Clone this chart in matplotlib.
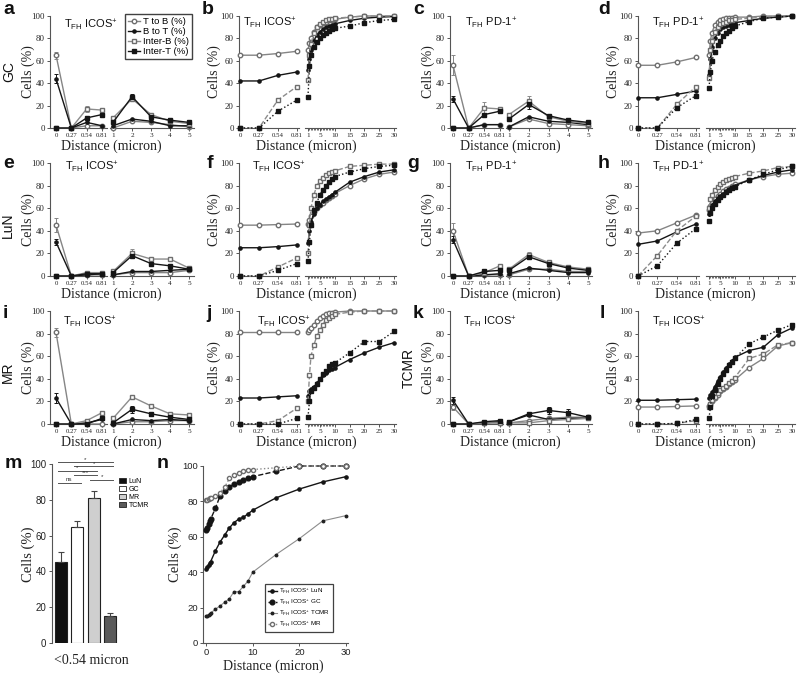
import numpy as np
import matplotlib.pyplot as plt
from matplotlib.lines import Line2D
from matplotlib.patches import Patch

plt.rcParams['font.family'] = ['Liberation Serif', 'DejaVu Serif']
plt.rcParams['axes.linewidth'] = 0.8

SERIES = ['T to B (%)', 'B to T (%)', 'Inter-B (%)', 'Inter-T (%)']
X_LEFT = [0, 0.27, 0.54, 0.81]
X_LEFT_LABELS = ['0', '0.27', '0.54', '0.81']
X_NEAR = [1, 2, 3, 4, 5]
X_FAR = [1, 1.5, 2, 3, 4, 5, 6, 7, 8, 9, 10, 15, 20, 25, 30]

# distribution panels (a, c, e, g, i, k): 0, 0.27, 0.54, 0.81, 1..5
a_tb = [65, 0, 2, 2, 0, 6, 5, 3, 1]
a_bt = [44, 0, 5, 2, 2, 8, 6, 2, 2]
a_ib = [0, 0, 17, 16, 9, 26, 12, 6, 4]
a_it = [0, 0, 9, 12, 5, 28, 10, 7, 5]
a_err = {0: {0: 3}, 1: {0: 4}, 2: {2: 3, 5: 2}, 3: {5: 2}}

c_tb = [56, 0, 3, 3, 1, 8, 4, 3, 2]
c_bt = [26, 0, 3, 3, 1, 10, 6, 5, 3]
c_ib = [0, 0, 18, 17, 12, 24, 10, 6, 4]
c_it = [0, 0, 12, 15, 8, 21, 11, 7, 5]
c_err = {0: {0: 9}, 1: {0: 3}, 2: {2: 5, 5: 5}, 3: {5: 4}}

e_tb = [45, 0, 1, 1, 1, 3, 3, 3, 5]
e_bt = [30, 0, 1, 2, 1, 4, 4, 5, 6]
e_ib = [0, 0, 3, 3, 4, 20, 15, 15, 7]
e_it = [0, 0, 2, 2, 3, 18, 11, 9, 6]
e_err = {0: {0: 6}, 1: {0: 3}, 2: {5: 4}, 3: {}}

g_tb = [40, 0, 1, 1, 1, 6, 6, 4, 4]
g_bt = [32, 0, 1, 2, 2, 7, 5, 3, 3]
g_ib = [0, 0, 3, 9, 6, 19, 12, 8, 6]
g_it = [0, 0, 4, 5, 5, 17, 11, 7, 5]
g_err = {0: {0: 7}, 1: {0: 3}, 2: {5: 2}, 3: {}}

i_tb = [81, 0, 0, 0, 0, 2, 2, 3, 3]
i_bt = [23, 0, 1, 4, 0, 4, 3, 4, 3]
i_ib = [0, 0, 3, 10, 5, 24, 16, 9, 8]
i_it = [0, 0, 0, 5, 1, 13, 9, 6, 4]
i_err = {0: {0: 4}, 1: {0: 4}, 2: {}, 3: {5: 3, 6: 2}}

k_tb = [15, 0, 1, 1, 1, 3, 5, 6, 6]
k_bt = [21, 0, 1, 2, 2, 8, 4, 5, 5]
k_ib = [0, 0, 1, 1, 1, 1, 3, 4, 5]
k_it = [0, 0, 2, 3, 2, 9, 12, 10, 6]
k_err = {0: {0: 3}, 1: {0: 3}, 2: {}, 3: {6: 3, 7: 3}}

# cumulative panels (b, d, f, h, j, l): 0..0.81 then X_FAR
b_tb = [65, 65, 66.5, 68.5, 70, 76, 80, 86, 90, 92, 94, 95, 96, 96.5, 97, 99, 100, 100, 100]
b_bt = [42, 42, 47, 50, 52, 62, 70, 78, 83, 86, 88, 90, 91, 92, 93, 96, 98, 99, 99.5]
b_ib = [0, 0, 25, 37, 43, 65, 75, 85, 90, 93, 95, 96, 97, 97, 98, 99, 100, 100, 100]
b_it = [0, 0, 15, 25, 28, 55, 65, 72, 77, 80, 83, 85, 87, 88, 89, 91, 94, 96, 97]

d_tb = [56, 56, 59, 63, 65, 78, 85, 92, 95, 96, 97, 98, 98, 98.5, 99, 99, 100, 100, 100]
d_bt = [27, 27, 30, 33, 47, 62, 72, 80, 85, 88, 90, 91, 92, 93, 94, 96, 98, 99, 100]
d_ib = [0, 0, 21, 37, 45, 70, 78, 86, 90, 93, 94, 95, 96, 96, 97, 98, 99, 100, 100]
d_it = [0, 0, 18, 29, 36, 50, 60, 68, 74, 78, 82, 85, 87, 89, 91, 95, 98, 99, 100]

f_tb = [45, 45, 45.5, 46, 46, 50, 53, 57, 60, 63, 65, 67, 69, 71, 73, 80, 86, 90, 92]
f_bt = [25, 25, 26, 27.5, 29, 40, 48, 55, 60, 63, 66, 68, 70, 72, 74, 83, 88, 92, 94]
f_ib = [0, 0, 8, 16, 20, 45, 60, 72, 80, 84, 87, 89, 91, 92, 93, 97, 98, 99, 99]
f_it = [0, 0, 5, 11, 13, 30, 45, 58, 65, 72, 76, 80, 83, 86, 88, 92, 95, 97, 98]

h_tb = [38, 40, 47, 54, 58, 62, 65, 68, 71, 73, 75, 77, 78, 80, 81, 85, 88, 90, 91]
h_bt = [28, 31, 39, 46, 55, 60, 63, 66, 69, 71, 73, 75, 77, 79, 80, 85, 89, 92, 94]
h_ib = [0, 18, 40, 53, 60, 68, 72, 76, 79, 81, 83, 85, 86, 87, 88, 91, 93, 96, 97]
h_it = [0, 9, 29, 42, 49, 56, 60, 64, 67, 70, 72, 74, 76, 78, 79, 85, 90, 94, 97]

j_tb = [81, 81, 81, 81, 81, 83, 85, 88, 91, 94, 96, 97, 98, 98, 99, 100, 100, 100, 100]
j_bt = [23, 23, 24, 25, 25, 29, 31, 33, 36, 40, 43, 45, 48, 49, 50, 57, 63, 68, 72]
j_ib = [0, 0, 3, 14, 20, 43, 60, 70, 78, 83, 88, 92, 94, 96, 97, 99, 100, 100, 100]
j_it = [0, 0, 0, 5, 6, 20, 29, 32, 35, 40, 44, 47, 51, 53, 54, 63, 73, 73, 82]

l_tb = [15, 15, 15.5, 16, 16, 18, 20, 23, 26, 29, 31, 33, 35, 37, 39, 50, 58, 69, 72]
l_bt = [21, 21, 21.5, 22, 23, 26, 28, 33, 38, 42, 46, 50, 53, 56, 59, 65, 68, 79, 85]
l_ib = [0, 0, 0.5, 3, 15, 18, 21, 24, 27, 30, 32, 34, 36, 38, 41, 58, 62, 70, 72]
l_it = [0, 0, 0.5, 4, 5, 15, 25, 30, 35, 40, 44, 48, 52, 55, 58, 71, 77, 83, 88]

# m: bars
m_groups = ['LuN', 'GC', 'MR', 'TCMR']
m_vals = [45, 65, 81, 15]
m_err = [6, 3, 4, 2]
m_colors = ['#111111', '#ffffff', '#cfcfcf', '#5a5a5a']
m_sig = [(0, 1, 89.5, 'ns'), (2, 3, 91.2, '*'), (1, 2, 93.7, '***'),
         (0, 2, 96.3, '*'), (1, 3, 98.7, '*'), (0, 3, 101.0, '*')]

# n: cumulative by region
n_x = [0, 0.27, 0.54, 0.81, 1, 2, 3, 4, 5, 6, 7, 8, 9, 10, 15, 20, 25, 30]
n_lun = [42, 43, 44, 45, 46, 52, 57, 61, 65, 68, 70, 71, 73, 75, 82, 87, 91, 94]
n_gc = [64, 65, 67, 69, 70, 76, 83, 86, 88, 90, 91, 92, 93, 94, 97, 100, 100, 100]
n_tcmr = [15, 15.5, 16, 16.5, 17, 19, 21, 23, 25, 29, 29, 32, 35, 40, 50, 59, 69, 72]
n_mr = [81, 81, 81.5, 82, 82, 83, 85, 88, 93, 95, 96, 97, 98, 98, 99, 100, 100, 100]

W, H = 800, 675
fig = plt.figure(figsize=(W / 100, H / 100), dpi=100)

AX_C = '#555555'
TXT = '#222222'
SANS = 'Liberation Sans'

STYLE = {
    'T to B (%)': dict(color='#858585', marker='o', mfc='white', mec='#6e6e6e', ms=3.2, lw=1.0, ls='-'),
    'B to T (%)': dict(color='#151515', marker='o', mfc='#151515', mec='#151515', ms=2.3, lw=1.0, ls='-'),
    'Inter-B (%)': dict(color='#8c8c8c', marker='s', mfc='white', mec='#6e6e6e', ms=2.9, lw=1.0, ls='--'),
    'Inter-T (%)': dict(color='#151515', marker='s', mfc='#151515', mec='#151515', ms=2.6, lw=1.0, ls=':'),
}

# column geometry in pixels: y spine, end of left part, start/end of right part
COLS = {
    1: dict(spine=50, lend=107, rstart=110, rend=194, lx=(-0.106, 0.898), rx=(0.84, 5.26), yl=22),
    2: dict(spine=239, lend=299, rstart=305, rend=396, lx=(-0.015, 0.84), rx=(0.0, 30.6), yl=25),
    3: dict(spine=450, lend=503, rstart=506, rend=592, lx=(-0.052, 0.862), rx=(0.85, 5.2), yl=22),
    4: dict(spine=638, lend=699, rstart=706, rend=795, lx=(0.0, 0.852), rx=(-0.05, 31.0), yl=25),
}
ROWS = {1: (16, 128), 2: (163, 276), 3: (311, 424)}


def px_axes(x0, x1, y0, y1):
    return fig.add_axes([x0 / W, 1 - y1 / H, (x1 - x0) / W, (y1 - y0) / H])


def ftext(x, y, s, **kw):
    return fig.text(x / W, 1 - y / H, s, **kw)


def style_ax(ax, left=True):
    for s in ['top', 'right']:
        ax.spines[s].set_visible(False)
    ax.spines['left'].set_visible(left)
    for s in ['left', 'bottom']:
        ax.spines[s].set_color(AX_C)
    ax.tick_params(colors=AX_C, labelcolor=TXT, labelsize=6.3, length=2.5,
                   width=0.7, pad=1.2)
    ax.set_ylim(0, 100)
    if left:
        ax.set_yticks(range(0, 101, 20))
    else:
        ax.set_yticks([])
    ax.patch.set_alpha(0)


def draw(ax, x, vals, name, solid, errs=None, offset=0):
    st = dict(STYLE[name])
    if solid:
        st['ls'] = '-'
    ax.plot(x, vals, clip_on=False, zorder=3, **st)
    if errs:
        for idx, e in errs.items():
            k = idx - offset
            if 0 <= k < len(x):
                ax.errorbar(x[k], vals[k], yerr=e, fmt='none', ecolor=st['color'],
                            elinewidth=0.7, capsize=1.5, capthick=0.7,
                            clip_on=False, zorder=2)


def title_text(name):
    return r'T$_{\mathregular{FH}}$ ' + name + r'$^{\mathregular{+}}$'


def dist_panel(col, row, data, far, title, tpos, letter, lpos, errs=None):
    g = COLS[col]
    y0, y1 = ROWS[row]
    axl = px_axes(g['spine'], g['lend'], y0, y1)
    axr = px_axes(g['rstart'], g['rend'], y0, y1)
    style_ax(axl, True)
    style_ax(axr, False)
    axl.set_xlim(*g['lx'])
    axr.set_xlim(*g['rx'])
    xr = X_FAR if far else X_NEAR
    for n, (name, vals) in enumerate(zip(SERIES, data)):
        e = errs[n] if errs else None
        draw(axl, X_LEFT, vals[:4], name, not far, e, 0)
        draw(axr, xr, vals[4:], name, not far, e, 4)
    axl.set_xticks(X_LEFT)
    axl.set_xticklabels(X_LEFT_LABELS)
    axl.tick_params(axis='x', labelsize=4.9, pad=1.0)
    if far:
        axr.set_xticks([1, 5, 10, 15, 20, 25, 30])
        axr.set_xticks(np.arange(1, 10.5, 0.5), minor=True)
        axr.tick_params(axis='x', which='minor', length=1.6, width=0.6, colors=AX_C)
    else:
        axr.set_xticks(X_NEAR)
    axr.tick_params(axis='x', labelsize=5.2, pad=1.0)
    ftext((g['spine'] + g['rend']) / 2 - 11, y1 + 18, 'Distance (micron)',
          ha='center', va='center', fontsize=10, color=TXT)
    ftext(g['spine'] - g['yl'], (y0 + y1) / 2, 'Cells (%)', rotation=90,
          ha='center', va='center', fontsize=10, color=TXT)
    ftext(tpos[0], tpos[1], title_text(title), ha='left', va='center',
          fontsize=8, family=SANS, color='#111111')
    ftext(lpos[0], lpos[1], letter, ha='left', va='center', fontsize=14,
          fontweight='bold', family=SANS, color='#111111')
    return axl, axr


axa, axa_r = dist_panel(1, 1, [a_tb, a_bt, a_ib, a_it], False, 'ICOS', (64, 25), 'a', (3, 10), a_err)
dist_panel(2, 1, [b_tb, b_bt, b_ib, b_it], True, 'ICOS', (243, 23), 'b', (202, 10))
dist_panel(3, 1, [c_tb, c_bt, c_ib, c_it], False, 'PD-1', (465, 23), 'c', (413, 10), c_err)
dist_panel(4, 1, [d_tb, d_bt, d_ib, d_it], True, 'PD-1', (652, 23), 'd', (598, 10))

dist_panel(1, 2, [e_tb, e_bt, e_ib, e_it], False, 'ICOS', (65, 167), 'e', (3, 164), e_err)
dist_panel(2, 2, [f_tb, f_bt, f_ib, f_it], True, 'ICOS', (252, 167), 'f', (207, 164))
dist_panel(3, 2, [g_tb, g_bt, g_ib, g_it], False, 'PD-1', (465, 167), 'g', (407, 164), g_err)
dist_panel(4, 2, [h_tb, h_bt, h_ib, h_it], True, 'PD-1', (652, 167), 'h', (598, 164))

dist_panel(1, 3, [i_tb, i_bt, i_ib, i_it], False, 'ICOS', (63, 322), 'i', (3, 313), i_err)
dist_panel(2, 3, [j_tb, j_bt, j_ib, j_it], True, 'ICOS', (257, 322), 'j', (206, 313))
dist_panel(3, 3, [k_tb, k_bt, k_ib, k_it], False, 'ICOS', (463, 322), 'k', (413, 313), k_err)
dist_panel(4, 3, [l_tb, l_bt, l_ib, l_it], True, 'ICOS', (652, 322), 'l', (600, 313))

# row labels
for txt, x, y in [('GC', 9, 72), ('LuN', 8, 225), ('MR', 8, 372), ('TCMR', 409, 368)]:
    ftext(x, y, txt, rotation=90, ha='center', va='center', fontsize=10,
          family=SANS, color='#111111')

# legend in a
handles = []
for name in SERIES:
    st = dict(STYLE[name])
    st['ls'] = '-'
    handles.append(Line2D([], [], **st))
leg = axa_r.legend(handles, SERIES, loc='upper right', bbox_to_anchor=(192 / W, 1 - 14 / H),
                   bbox_transform=fig.transFigure, prop={'family': SANS, 'size': 6.8},
                   frameon=True, fancybox=False, borderpad=0.3, handlelength=1.3,
                   labelspacing=0.12, handletextpad=0.35, borderaxespad=0)
leg.get_frame().set_edgecolor('#111111')
leg.get_frame().set_linewidth(1.0)

# m: bar chart
axm = px_axes(52, 118, 464, 643)
axm.bar(range(4), m_vals, width=0.72, color=m_colors, edgecolor='#222222', lw=0.8,
        yerr=[[0] * 4, m_err],
        error_kw=dict(ecolor='#444444', elinewidth=0.8, capsize=2.5, capthick=0.8))
axm.set_xlim(-0.55, 3.49)
axm.set_ylim(0, 100)
for s in ['top', 'right', 'bottom']:
    axm.spines[s].set_visible(False)
axm.spines['left'].set_color(AX_C)
axm.set_xticks([])
axm.set_yticks(range(0, 101, 20))
axm.tick_params(colors=AX_C, labelcolor=TXT, labelsize=7, length=2.5, width=0.7, pad=1.5)
for lab in axm.get_yticklabels():
    lab.set_family(SANS)
for i0, i1, yy, lab in m_sig:
    axm.plot([i0 - 0.2, i1 + 0.2], [yy, yy], color='#555555', lw=0.7, clip_on=False)
    axm.text((i0 + i1) / 2, yy + 0.2, lab, ha='center', va='bottom', fontsize=4.5,
             family=SANS, color='#333333', clip_on=False)
mh = [Patch(facecolor=c, edgecolor='#222222', lw=0.6) for c in m_colors]
legm = axm.legend(mh, m_groups, loc='upper left', bbox_to_anchor=(119 / W, 1 - 478 / H),
                  bbox_transform=fig.transFigure, frameon=False,
                  prop={'family': SANS, 'size': 5}, handlelength=1.0, handleheight=0.7,
                  labelspacing=0.15, handletextpad=0.4, borderpad=0, borderaxespad=0)
ftext(28, 554, 'Cells (%)', rotation=90, ha='center', va='center', fontsize=10.5, color=TXT)
ftext(91, 661, '<0.54 micron', ha='center', va='center', fontsize=10, color=TXT)
ftext(5, 463, 'm', ha='left', va='center', fontsize=14, fontweight='bold', family=SANS, color='#111111')

# n: cumulative curves by region
axn = px_axes(203, 348, 466, 643)
n_series = [
    (n_lun, 'LuN', dict(color='#151515', marker='o', mfc='#151515', mec='#151515', ms=2.3, lw=1.0, ls='-')),
    (n_gc, 'GC', dict(color='#151515', marker='o', mfc='#151515', mec='#151515', ms=3.4, lw=1.0, ls='--')),
    (n_tcmr, 'TCMR', dict(color='#8c8c8c', marker='o', mfc='#222222', mec='#222222', ms=1.8, lw=0.8, ls='-')),
    (n_mr, 'MR', dict(color='#8c8c8c', marker='o', mfc='white', mec='#6e6e6e', ms=3.0, lw=1.0, ls=':')),
]
nh, nl = [], []
for vals, name, st in n_series:
    ln, = axn.plot(n_x, vals, clip_on=False, zorder=3, **st)
    nh.append(ln)
    nl.append(r'T$_{\mathregular{FH}}$ ICOS$^{\mathregular{+}}$ ' + name)
axn.set_xlim(-0.64, 30.4)
axn.set_ylim(0, 100)
for s in ['top', 'right']:
    axn.spines[s].set_visible(False)
for s in ['left', 'bottom']:
    axn.spines[s].set_color(AX_C)
axn.set_xticks([0, 10, 20, 30])
axn.set_yticks(range(0, 101, 20))
axn.tick_params(colors=AX_C, labelcolor=TXT, labelsize=6.8, length=2.5, width=0.7, pad=1.0)
for lab in axn.get_xticklabels() + axn.get_yticklabels():
    lab.set_family(SANS)
legn = axn.legend(nh, nl, loc='upper left', bbox_to_anchor=(265 / W, 1 - 584 / H),
                  bbox_transform=fig.transFigure, prop={'family': SANS, 'size': 4.5},
                  frameon=True, fancybox=False, borderpad=0.4, handlelength=1.5,
                  labelspacing=0.35, handletextpad=0.4, borderaxespad=0)
legn.get_frame().set_edgecolor('#111111')
legn.get_frame().set_linewidth(0.9)
ftext(175, 554, 'Cells (%)', rotation=90, ha='center', va='center', fontsize=10.5, color=TXT)
ftext(273, 666, 'Distance (micron)', ha='center', va='center', fontsize=10, color=TXT)
ftext(157, 463, 'n', ha='left', va='center', fontsize=14, fontweight='bold', family=SANS, color='#111111')

fig.savefig('out.png', dpi=100, facecolor='white')
